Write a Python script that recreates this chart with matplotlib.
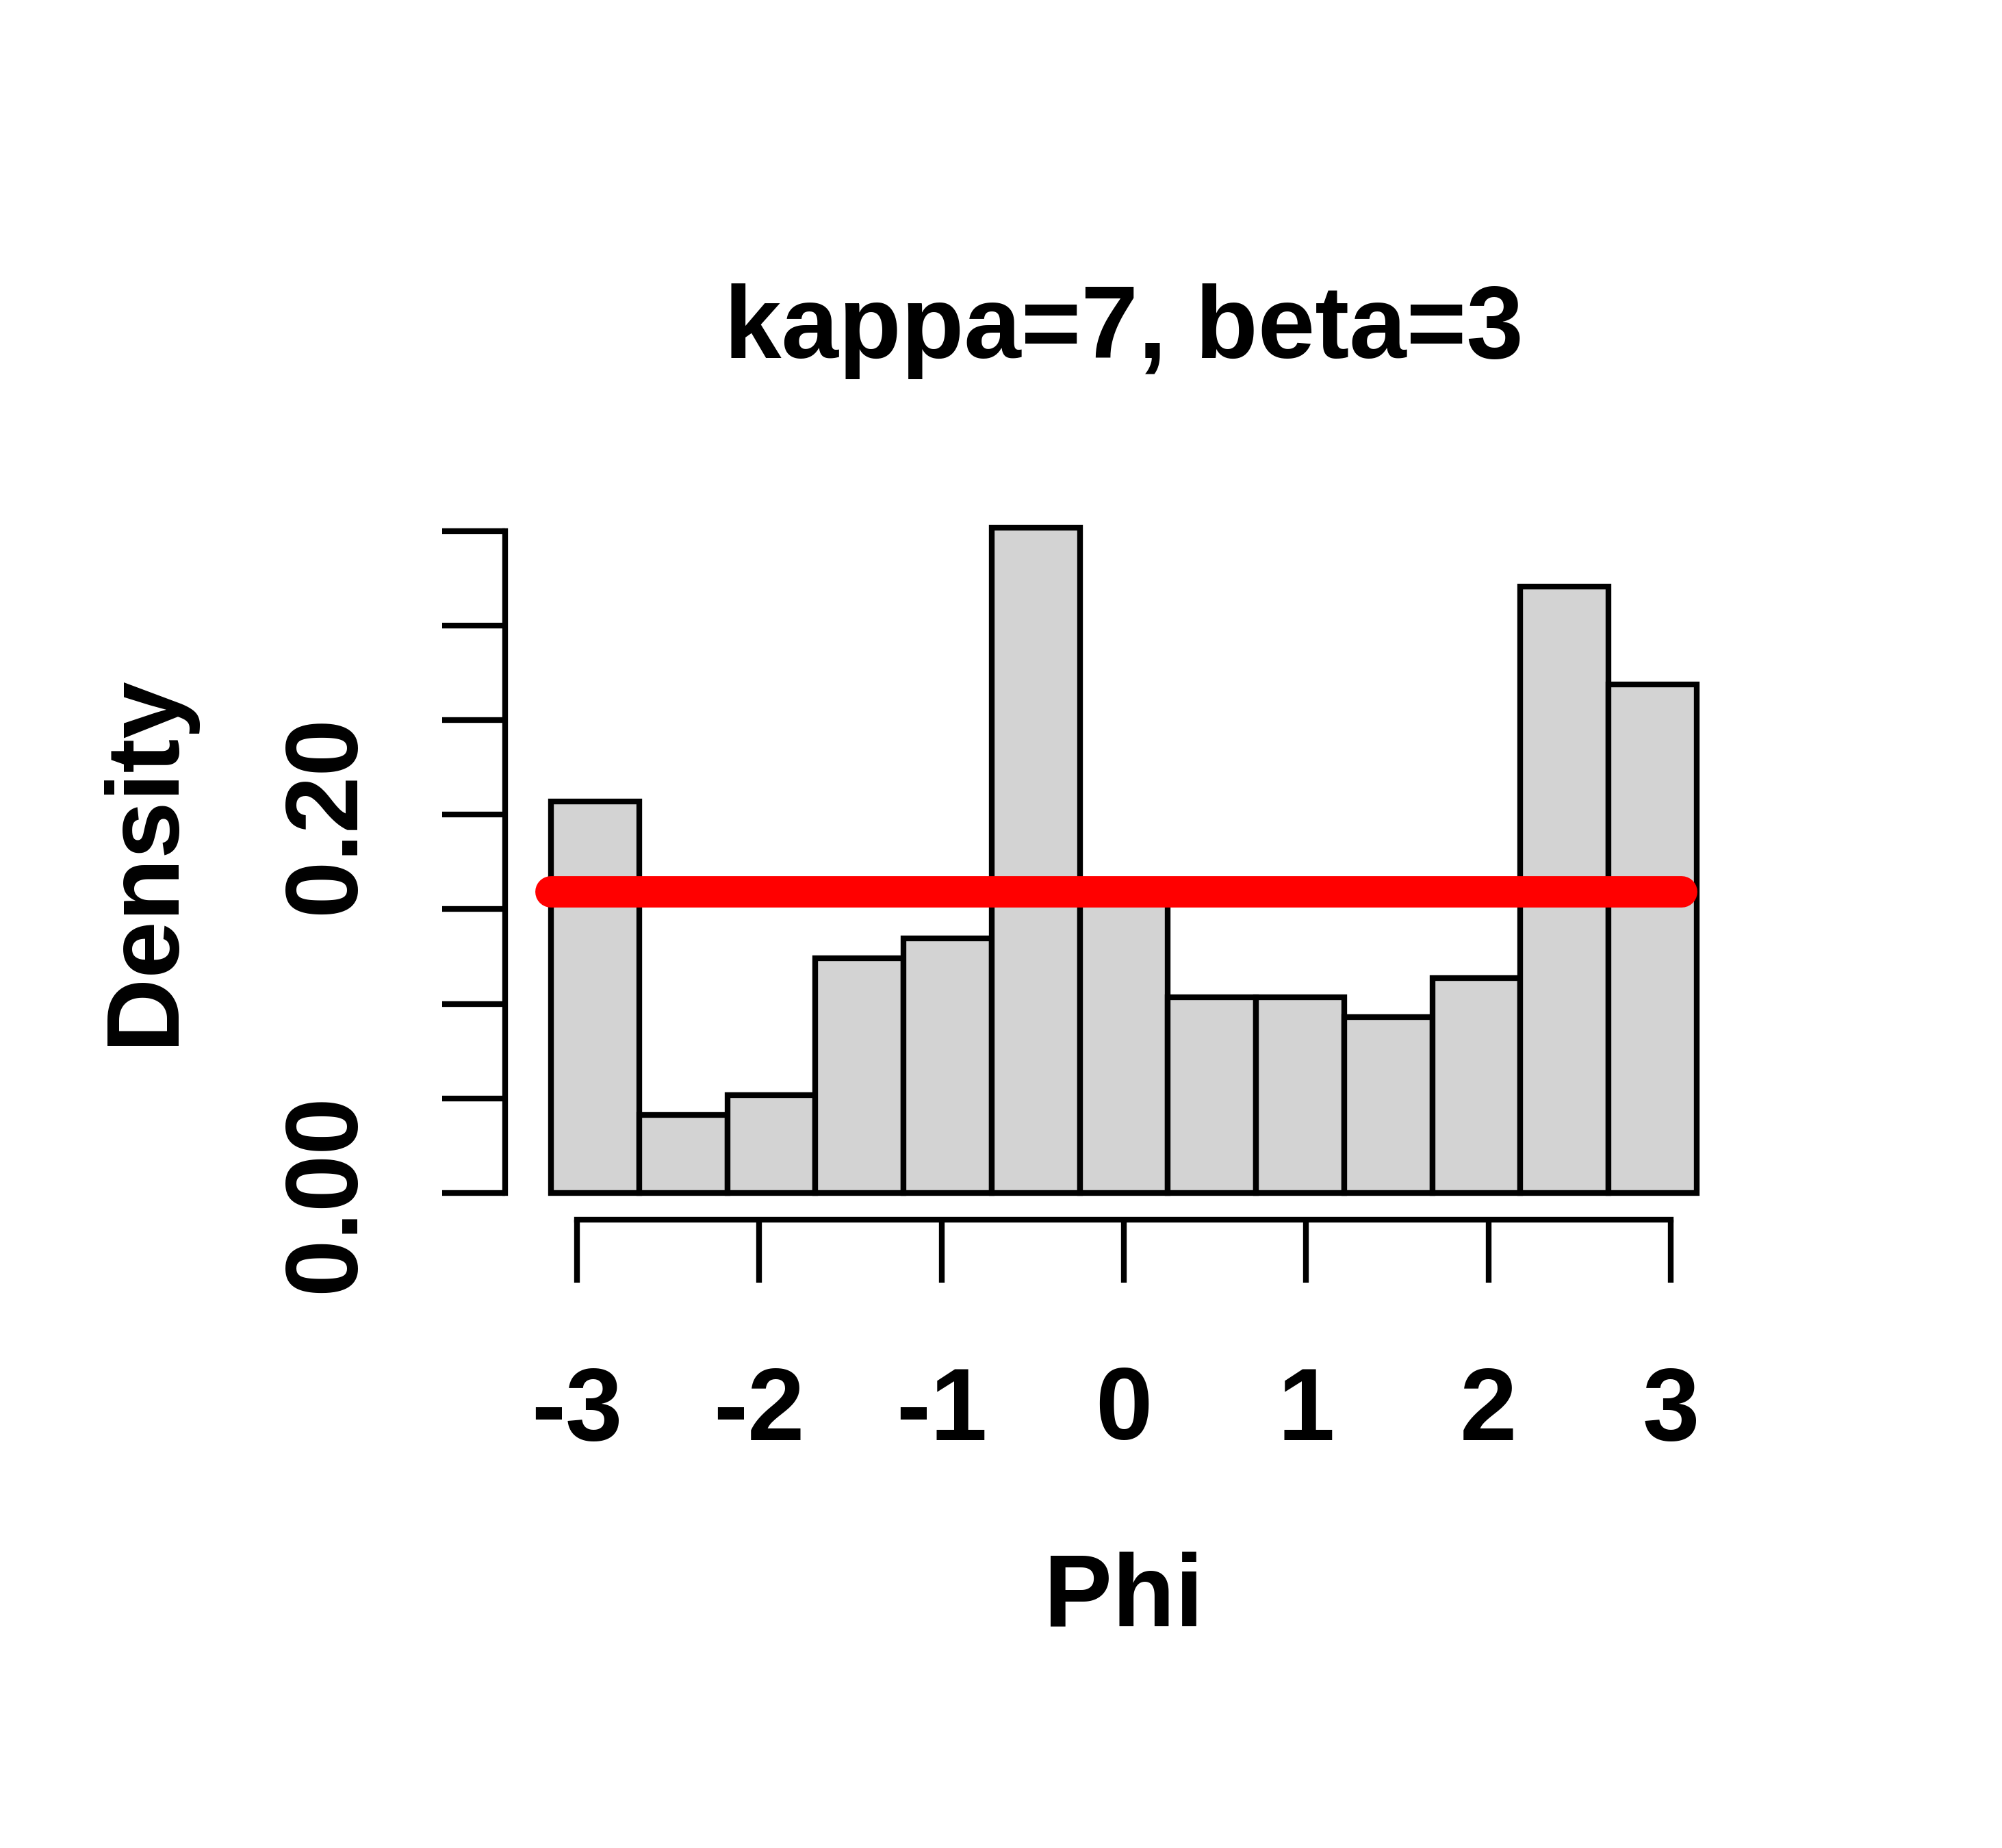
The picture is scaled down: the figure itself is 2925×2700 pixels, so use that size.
import matplotlib.pyplot as plt
import numpy as np

plt.rcParams['font.family'] = ['Liberation Sans', 'DejaVu Sans']
plt.rcParams['font.weight'] = 'bold'
plt.rcParams['font.size'] = 36

# histogram of 200 angles, 13 equal bins over [-pi, pi]
bin_edges = np.linspace(-np.pi, np.pi, 14)
counts = np.array([20, 4, 5, 12, 13, 34, 15, 10, 10, 9, 11, 31, 26])
uniform_density = 1 / (2 * np.pi)
line_x = [-np.pi, 3.06]

xticks = [-3, -2, -1, 0, 1, 2, 3]
yticks = [0.00, 0.05, 0.10, 0.15, 0.20, 0.25, 0.30, 0.35]
ytick_labels = ['0.00', '', '', '', '0.20', '', '', '']

widths = np.diff(bin_edges)
density = counts / (counts.sum() * widths)

W, H = 2925, 2700
fig = plt.figure(figsize=(W / 300, H / 300), dpi=300)
ax = fig.add_axes([738 / W, 1 - 1782 / H, (2546 - 738) / W, (1782 - 732) / H])

ax.bar(bin_edges[:-1], density, width=widths, align='edge',
       color='#D3D3D3', edgecolor='black', linewidth=2.0, zorder=2)
ax.plot(line_x, [uniform_density] * len(line_x),
        color='red', linewidth=11, solid_capstyle='round', zorder=3)

# R-style axis ranges (4% extension)
xr = bin_edges[-1] - bin_edges[0]
ax.set_xlim(bin_edges[0] - 0.04 * xr, bin_edges[-1] + 0.04 * xr)
ymax = density.max()
ax.set_ylim(-0.04 * ymax, 1.04 * ymax)

for s in ['top', 'right']:
    ax.spines[s].set_visible(False)
ax.spines['left'].set_bounds(yticks[0], yticks[-1])
ax.spines['bottom'].set_bounds(xticks[0], xticks[-1])
ax.spines['left'].set_linewidth(2.0)
ax.spines['bottom'].set_linewidth(2.0)

ax.set_xticks(xticks, labels=[str(t) for t in xticks])
ax.set_yticks(yticks, labels=ytick_labels, rotation=90, rotation_mode='anchor',
              ha='center', va='baseline')
ax.tick_params(axis='x', length=22, width=2.0, pad=29, labelsize=36)
ax.tick_params(axis='y', length=22, width=2.0, pad=31, labelsize=36)

fig.text(1642 / W, 1 - 523 / H, 'kappa=7, beta=3', ha='center', va='baseline',
         fontsize=36, fontweight='bold')
fig.text(1642 / W, 1 - 2376 / H, 'Phi', ha='center', va='baseline',
         fontsize=36, fontweight='bold')
fig.text(252 / W, 1 - 1256 / H, 'Density', rotation=90, rotation_mode='anchor',
         ha='center', va='baseline', fontsize=36, fontweight='bold')

fig.savefig('out.png', dpi=300, facecolor='white')
